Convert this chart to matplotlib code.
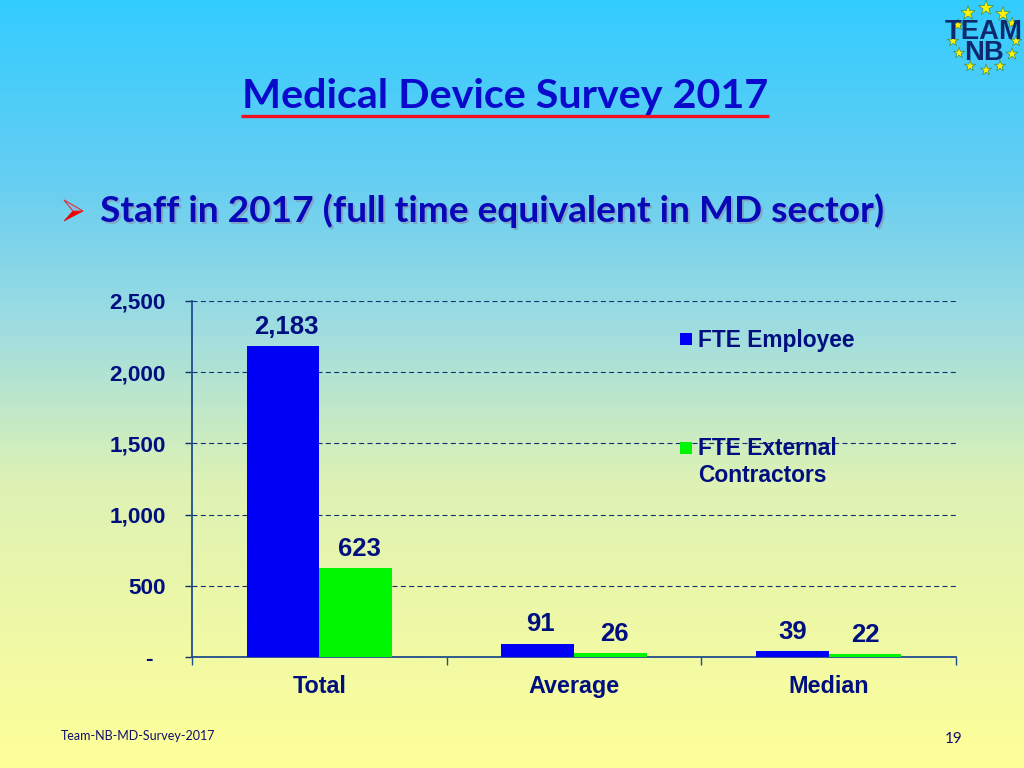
import numpy as np
import matplotlib
matplotlib.use("Agg")
import matplotlib.pyplot as plt
from matplotlib.colors import LinearSegmentedColormap

categories = ["Total", "Average", "Median"]
employee = [2183, 91, 39]
contractors = [623, 26, 22]
employee_labels = ["2,183", "91", "39"]
contractor_labels = ["623", "26", "22"]
yticks = [0, 500, 1000, 1500, 2000, 2500]
ytick_labels = ["-  ", "500", "1,000", "1,500", "2,000", "2,500"]

# small horizontal nudges of the value labels, in points
employee_dx = [2.5, 2, 0]
contractor_dx = [2.5, 3, 0]

W, H = 1024, 768
NAVY = "#000F80"
SANS = "Liberation Sans"
TITLE = "Lato"

fig = plt.figure(figsize=(10.24, 7.68), dpi=100)

# slide background and page-level items, in pixel coordinates
bg = fig.add_axes([0, 0, 1, 1], zorder=0)
bg.set_xlim(0, W)
bg.set_ylim(H, 0)
bg.axis("off")
cmap = LinearSegmentedColormap.from_list(
    "slide",
    [(0, "#33CCFF"), (180 / 768, "#66CEF2"), (330 / 768, "#A0DDE0"),
     (480 / 768, "#DDF2B5"), (1, "#FFFF99")])
bg.imshow(np.linspace(0, 1, 256).reshape(-1, 1), cmap=cmap, aspect="auto",
          extent=[0, W, H, 0], zorder=0)

bg.text(505, 96.5, "Medical Device Survey 2017", ha="center", va="center",
        family=TITLE, weight="bold", fontsize=29.7, color="#0A0ACD")
bg.plot([241, 769], [115.5, 115.5], color="#F01020", lw=2.4, solid_capstyle="butt")

for dx, col in ((1.5, "#7FA8C8"), (0, "#0808B8")):
    bg.text(100 + dx, 211 + dx, "Staff in 2017 (full time equivalent in MD sector)",
            ha="left", va="center", family=TITLE, weight="bold", fontsize=26.65, color=col)
bg.fill([64, 83, 64, 73], [200, 211, 221, 211], facecolor="#F00000", edgecolor="#F00000", lw=0.5)
bg.fill([64, 83, 73], [200, 211, 211], facecolor="#7FC0E8", edgecolor="#E03030", lw=0.6)

bg.text(61, 736, "Team-NB-MD-Survey-2017", ha="left", va="center",
        family=TITLE, fontsize=9, color="#10106A")
bg.text(954, 739, "19", ha="center", va="center", family=TITLE, fontsize=11, color="#10106A")

# logo
star_x = [968, 986, 1003, 1012, 1016, 1012, 1000, 986, 970, 959, 953, 958]
star_y = [13, 8, 14, 23, 41, 54, 66, 70, 66, 53, 41, 25]
star_s = [120, 130, 120, 70, 70, 80, 70, 70, 70, 70, 70, 70]
bg.scatter(star_x, star_y, marker="*", s=star_s, facecolor="#FFF200", edgecolor="#2A7A50",
           linewidth=0.4, zorder=2)
bg.text(983.5, 42.5, "TEAM\nNB", ha="center", va="center", family=SANS, weight="bold",
        fontsize=19.8, color="#0E2A6E", zorder=3, linespacing=0.76)

# chart
left, right, top, bottom = 192, 956, 301, 657
ax = fig.add_axes([left / W, 1 - bottom / H, (right - left) / W, (bottom - top) / H], zorder=1)
ax.patch.set_alpha(0)
x = np.arange(len(categories))
width = 0.2857
ax.bar(x - width / 2, employee, width, color="#0000F5", zorder=3)
ax.bar(x + width / 2, contractors, width, color="#00F500", zorder=3)
ax.set_xlim(-0.5, 2.5)
ax.set_ylim(0, 2500)

ax.set_yticks(yticks, ytick_labels)
ax.set_xticks(x, categories)
ax.set_xticks(np.arange(-0.5, 3, 1), minor=True)
ax.grid(axis="y", color="#12306E", lw=0.8, ls=(0, (4.5, 3)), zorder=1)
ax.set_axisbelow(True)
for s in ("top", "right"):
    ax.spines[s].set_visible(False)
for s in ("left", "bottom"):
    ax.spines[s].set_color("#1F4E8C")
    ax.spines[s].set_linewidth(1.3)
ax.tick_params(axis="y", length=5, width=1, color="#12306E", pad=14, labelsize=16.2, labelcolor=NAVY)
ax.tick_params(axis="x", which="major", length=0, pad=13, labelsize=16.8, labelcolor=NAVY)
ax.tick_params(axis="x", which="minor", length=6, width=1, color="#1F4E8C", direction="out")
for lab in ax.get_xticklabels() + ax.get_yticklabels():
    lab.set_family(SANS)
    lab.set_weight("bold")

for i in range(len(categories)):
    ax.annotate(employee_labels[i], (x[i] - width / 2, employee[i]), xytext=(employee_dx[i], 5.5),
                textcoords="offset points", ha="center", va="bottom", family=SANS,
                weight="bold", fontsize=18.5, color=NAVY, zorder=4)
    ax.annotate(contractor_labels[i], (x[i] + width / 2, contractors[i]), xytext=(contractor_dx[i], 5),
                textcoords="offset points", ha="center", va="bottom", family=SANS,
                weight="bold", fontsize=18.5, color=NAVY, zorder=4)

# legend
bg2 = fig.add_axes([0, 0, 1, 1], zorder=2)
bg2.set_xlim(0, W)
bg2.set_ylim(H, 0)
bg2.axis("off")
bg2.scatter([686, 686], [339, 448], marker="s", s=75,
            c=["#0000F5", "#00F500"], linewidths=0)
bg2.text(698, 340, "FTE Employee", va="center", ha="left", family=SANS, weight="bold",
         fontsize=16.4, color=NAVY)
bg2.text(698, 462, "FTE External\nContractors", va="center", ha="left", family=SANS, weight="bold",
         fontsize=16.4, color=NAVY, linespacing=1.17)

fig.savefig("out.png", dpi=100)
